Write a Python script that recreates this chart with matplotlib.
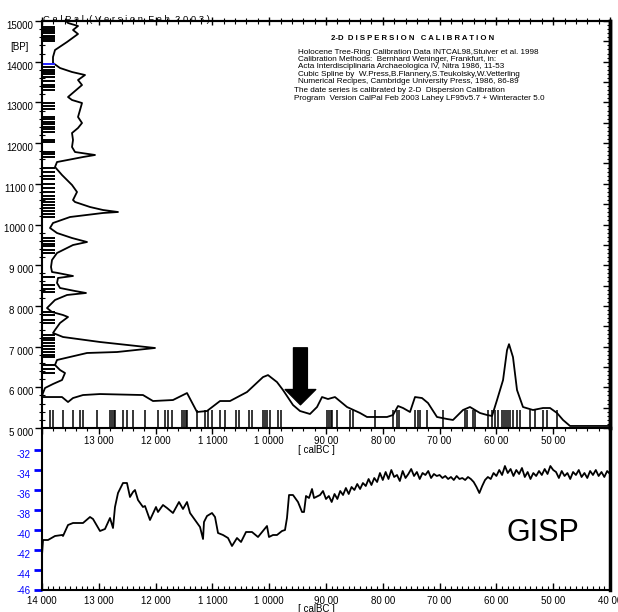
import matplotlib
matplotlib.use("Agg")
import matplotlib.pyplot as plt
from matplotlib.ticker import MultipleLocator, NullFormatter

plt.rcParams['font.family'] = ['Liberation Sans', 'DejaVu Sans']

# --- dados ------------------------------------------------------------------
# curva de probabilidade calibrada (eixo calBC, base do painel superior)
cal_years = [14000, 13648, 13542, 13454, 13278, 12979, 12222, 12046, 11694, 11447,
             11271, 11095, 10866, 10690, 10391, 10109, 10021, 9863, 9757, 9581,
             9458, 9282, 9158, 9070, 8965, 8842, 8630, 8401, 8278, 7926,
             7820, 7732, 7644, 7521, 7433, 7310, 7204, 7046, 6870, 6764,
             6588, 6465, 6289, 6165, 6077, 5989, 5883, 5813, 5778, 5708,
             5637, 5532, 5356, 5179, 5056, 4933, 4827, 4704, 4000]
cal_dens = [29, 29, 24, 28, 31, 32, 31, 25, 26, 33,
            14, 15, 25, 25, 34, 49, 51, 44, 36, 21,
            15, 12, 19, 29, 27, 29, 19, 13, 9, 9,
            11, 20, 18, 14, 29, 28, 23, 9, 7, 6,
            16, 19, 13, 11, 10, 26, 46, 76, 82, 69,
            36, 19, 16, 18, 18, 13, 6, 0, 0]

# curva de probabilidade das datas 14C (eixo BP, lado esquerdo)
bp_years = [15000, 14951, 14877, 14779, 14681, 14484, 14287, 14115, 13968, 13845,
            13747, 13673, 13550, 13427, 13132, 13059, 12985, 12813, 12641, 12494,
            12371, 12248, 12076, 11904, 11781, 11708, 11658, 11535, 11413, 11216,
            10971, 10799, 10602, 10553, 10430, 10356, 10307, 10283, 10184, 10037,
            9914, 9791, 9668, 9570, 9496, 9300, 9128, 8956, 8833, 8808,
            8735, 8686, 8563, 8440, 8366, 8317, 8268, 8145, 7948, 7850,
            7776, 7727, 7580, 7408, 7334, 7236, 7113, 6966, 6867, 6843,
            6671, 6548, 6425, 6351, 6179, 6081, 5983, 5860, 5780]
bp_dens = [24, 26, 36, 31, 36, 25, 13, 11, 11, 18,
           30, 43, 36, 40, 26, 30, 40, 38, 36, 40,
           36, 30, 31, 30, 33, 53, 41, 15, 13, 20,
           30, 35, 31, 33, 48, 61, 76, 61, 28, 11,
           8, 15, 30, 45, 31, 15, 10, 9, 10, 16,
           31, 16, 15, 18, 33, 44, 25, 13, 5, 10,
           21, 26, 18, 13, 11, 21, 58, 113, 75, 45,
           15, 13, 18, 23, 20, 11, 3, 1, 0]

# marcas das datas individuais
bp_rug = [14850, 14800, 14750, 14700, 14640, 14600, 14550, 14500,
          13870, 13800, 13750, 13700, 13620, 13530, 13430, 13380, 13300,
          12985, 12900, 12830, 12640, 12580, 12520, 12460, 12400, 12340, 12280,
          12080, 12020, 11780, 11720, 11660, 11390, 11300, 11200, 11120, 11000,
          10900, 10800, 10700, 10620, 10560, 10480, 10400, 10330, 10260, 10190,
          9670, 9600, 9530, 9460, 9380, 9310, 8710, 8520, 8420, 8330,
          7850, 7780, 7650, 7580, 7290, 7220, 7150, 7080, 7010, 6940,
          6870, 6800, 6740, 6550, 6450, 6350]
bp_rug_blue = [13950]
cal_rug = [13859, 13806, 13630, 13454, 13331, 13278, 13032, 12803, 12768, 12740,
           12715, 12574, 12504, 12398, 12187, 11958, 11835, 11782, 11711, 11535,
           11500, 11470, 11447, 11271, 11130, 11077, 11007, 10866, 10778, 10584,
           10532, 10356, 10303, 10109, 10074, 10039, 9986, 9845, 9792, 8982,
           8947, 8920, 8894, 8806, 8577, 8525, 8137, 7820, 7750, 7715,
           7433, 7380, 7345, 7222, 6940, 6553, 6518, 6412, 6377, 6148,
           6077, 6024, 5972, 5901, 5866, 5831, 5796, 5760, 5708, 5637,
           5584, 5408, 5320, 5180, 5109, 4933]

# série GISP (d18O)
gisp_years = [14000, 14000, 14000, 14000, 13982, 13894, 13771, 13648, 13630, 13542,
              13454, 13278, 13155, 13102, 12979, 12891, 12803, 12750, 12715, 12662,
              12574, 12504, 12451, 12398, 12363, 12310, 12222, 12187, 12099, 11993,
              11958, 11870, 11799, 11694, 11588, 11518, 11447, 11394, 11306, 11218,
              11165, 11148, 11095, 11007, 10954, 10901, 10813, 10725, 10655, 10567,
              10496, 10408, 10303, 10197, 10039, 10004, 9933, 9863, 9775, 9722,
              9687, 9651, 9581, 9493, 9422, 9387, 9352, 9299, 9246, 9211,
              9105, 9053, 9000,
              8950, 8900, 8850, 8800, 8750, 8700, 8650, 8600, 8550, 8500,
              8450, 8400, 8350, 8300, 8250, 8200, 8150, 8100, 8050, 8000,
              7950, 7900, 7850, 7800, 7750, 7700, 7650, 7600, 7550, 7500,
              7450, 7400, 7350, 7300, 7250, 7200, 7150, 7100, 7050, 7000,
              6950, 6900, 6850, 6800, 6750, 6700, 6650, 6600, 6550, 6500,
              6450, 6400, 6350, 6300, 6250, 6200, 6150, 6100, 6050, 6000,
              5950, 5900, 5850, 5800, 5750, 5700, 5650, 5600, 5550, 5500,
              5450, 5400, 5350, 5300, 5250, 5200, 5150, 5100, 5050, 5000,
              4950, 4900, 4850, 4800, 4750, 4700, 4650, 4600, 4550, 4500,
              4450, 4400, 4350, 4300, 4250, 4200, 4150, 4100, 4050, 4000,
              4000, 4000, 4000, 4000]
gisp_d18o = [-35.8, -43.0, -36.0, -42.5, -41.0, -41.0, -40.6, -40.5, -40.6, -39.5,
             -39.3, -39.3, -38.7, -38.9, -40.1, -39.9, -38.8, -39.8, -37.7, -36.3,
             -35.3, -35.3, -36.7, -36.2, -36.0, -37.0, -37.7, -37.6, -39.0, -37.7,
             -38.2, -37.5, -37.8, -38.3, -37.2, -37.9, -37.2, -38.3, -39.0, -39.7,
             -40.9, -39.2, -38.6, -38.3, -38.7, -40.3, -40.5, -40.8, -41.6, -40.8,
             -41.2, -40.2, -40.2, -40.7, -39.6, -40.7, -40.5, -40.5, -40.1, -40.0,
             -38.8, -36.5, -36.5, -37.2, -38.2, -38.2, -36.6, -36.8, -35.9, -36.8,
             -36.5, -36.1, -36.9,
             -36.6, -37.2, -36.4, -36.9, -36.1, -36.5, -35.8, -36.4, -35.7, -36.0,
             -35.4, -35.9, -35.3, -35.6, -34.9, -35.5, -34.8, -35.2, -34.3, -35.0,
             -34.2, -34.9, -34.0, -34.7, -34.5, -35.1, -34.1, -34.8, -34.4, -33.9,
             -34.6, -34.2, -34.9, -34.3, -34.5, -34.1, -34.8, -34.4, -34.6, -34.5,
             -34.8, -34.6, -34.9, -34.7, -35.0, -34.6, -34.9, -34.8, -35.0, -34.7,
             -34.9, -35.2, -35.7, -36.3, -35.6, -35.0, -34.7, -34.9, -34.3, -34.6,
             -34.0, -34.5, -33.6, -34.3, -33.9, -34.6, -34.0, -34.4, -33.8, -34.7,
             -34.2, -34.9, -34.3, -34.6, -34.1, -34.5, -33.9, -34.4, -33.6, -34.0,
             -34.2, -34.8, -34.1, -34.6, -34.3, -34.9, -34.2, -34.5, -34.0, -34.7,
             -34.3, -34.8, -34.1, -34.5, -34.0, -34.6, -34.2, -34.7, -34.1, -34.4,
             -33.3, -36.2, -33.6, -35.8]

year_ticks = [14000, 13000, 12000, 11000, 10000, 9000, 8000, 7000, 6000, 5000, 4000]
year_labels = ["14 000", "13 000", "12 000", "1 1000", "1 0000", "90 00",
               "80 00", "70 00", "60 00", "50 00", "40 00"]
bp_ticks = [5000, 6000, 7000, 8000, 9000, 10000, 11000, 12000, 13000, 14000, 15000]
bp_labels = ["5 000", "6 000", "7 000", "8 000", "9 000", "1000 0", "1100 0",
             "12000", "13000", "14000", "15000"]
d18o_ticks = [-32, -34, -36, -38, -40, -42, -44, -46]

arrow_year = 9450
arrow_from, arrow_to = 6970, 5570

header_lines = [
    "Holocene Tree-Ring Calibration Data INTCAL98,Stuiver et al. 1998",
    "Calibration Methods:  Bernhard Weninger, Frankfurt, in:",
    "Acta Interdisciplinaria Archaeologica IV, Nitra 1986, 11-53",
    "Cubic Spline by  W.Press,B.Flannery,S.Teukolsky,W.Vetterling",
    "Numerical Recipes, Cambridge University Press, 1986, 86-89",
]
footer_lines = [
    "The date series is calibrated by 2-D  Dispersion Calibration",
    "Program  Version CalPal Feb 2003 Lahey LF95v5.7 + Winteracter 5.0",
]

# --- figura -------------------------------------------------------------------
W, H = 618, 612
fig = plt.figure(figsize=(W / 100, H / 100), dpi=100)


def px(x, y):
    """Converte pixels (origem no topo) para fração da figura."""
    return x / W, 1 - y / H


ax = fig.add_axes([42 / W, 1 - 428 / H, 568 / W, 407 / H])
axg = fig.add_axes([42 / W, 1 - 590 / H, 568 / W, 162 / H])
axg.patch.set_visible(False)
ax.set_zorder(2)
ax.patch.set_visible(False)

# painel superior
ax.set_xlim(14000, 4000)
ax.set_ylim(5000, 15000)

cal_max = max(cal_dens)
ax.plot(cal_years, [0.005 + d / cal_max * 0.201 for d in cal_dens],
        color='black', lw=1.3, transform=ax.get_xaxis_transform())
bp_max = max(bp_dens)
ax.plot([d / bp_max * 0.199 for d in bp_dens], bp_years,
        color='black', lw=1.3, transform=ax.get_yaxis_transform(), clip_on=False)

ax.hlines(bp_rug, 14000, 13770, color='black', lw=1.4)
ax.hlines(bp_rug_blue, 14000, 13770, color='#2020ff', lw=1.4)
ax.vlines(cal_rug, 5000, 5440, color='black', lw=1.1)

ax.annotate('', xy=(arrow_year, arrow_to), xytext=(arrow_year, arrow_from),
            arrowprops=dict(facecolor='black', edgecolor='black', width=10,
                            headwidth=22, headlength=11, shrink=0))

ax.set_xticks(year_ticks)
ax.set_xticklabels([''] + year_labels[1:-1] + [''])
ax.xaxis.set_minor_locator(MultipleLocator(200))
ax.tick_params(axis='x', which='major', direction='out', length=4, width=1,
               labelsize=7, pad=2)
ax.tick_params(axis='x', which='minor', direction='out', length=2, width=0.8)
ax.set_yticks(bp_ticks)
ax.set_yticklabels(bp_labels)
ax.yaxis.set_minor_locator(MultipleLocator(200))
ax.tick_params(axis='y', which='major', direction='out', length=5, width=1,
               labelsize=7, pad=1)
ax.tick_params(axis='y', which='minor', direction='inout', length=4, width=0.8)
for lab in ax.get_yticklabels():
    lab.set_va('top')

for side in ['left', 'bottom', 'top']:
    ax.spines[side].set_linewidth(1.5)
ax.spines['right'].set_linewidth(2.5)

top = ax.secondary_xaxis('top')
top.xaxis.set_major_locator(MultipleLocator(1000))
top.xaxis.set_minor_locator(MultipleLocator(200))
top.xaxis.set_major_formatter(NullFormatter())
top.tick_params(which='major', direction='inout', length=6, width=1)
top.tick_params(which='minor', direction='inout', length=4, width=0.8)
top.spines['top'].set_linewidth(1.5)

right = ax.secondary_yaxis('right')
right.yaxis.set_major_locator(MultipleLocator(500))
right.yaxis.set_minor_locator(MultipleLocator(100))
right.yaxis.set_major_formatter(NullFormatter())
right.tick_params(which='major', direction='in', length=5, width=1)
right.tick_params(which='minor', direction='in', length=2.5, width=0.8)
right.spines['right'].set_linewidth(2.5)

# painel inferior (GISP)
axg.set_xlim(14000, 4000)
axg.set_ylim(-46, -29.8)
axg.plot(gisp_years, gisp_d18o, color='black', lw=1.3, clip_on=False)

axg.set_xticks(year_ticks)
axg.set_xticklabels(year_labels)
axg.xaxis.set_minor_locator(MultipleLocator(100))
axg.tick_params(axis='x', which='major', direction='in', length=5, width=1,
                labelsize=7, pad=4)
axg.tick_params(axis='x', which='minor', direction='in', length=3, width=0.8)
axg.set_yticks(d18o_ticks)
axg.set_yticklabels([str(t) for t in d18o_ticks])
axg.tick_params(axis='y', direction='out', length=6, width=2, colors='#0000ff',
                labelsize=7, pad=2)
ylabs = axg.get_yticklabels()
for lab in ylabs[:-1]:
    lab.set_va('top')
axg.spines['top'].set_visible(False)
axg.spines['left'].set_linewidth(1.5)
axg.spines['bottom'].set_linewidth(1.5)
axg.spines['right'].set_linewidth(2.5)

# textos
fig.text(*px(43, 22), "C a l P a l  ( V e r s i o n  F e b  2 0 0 3 )",
         fontsize=6.8, ha='left', va='baseline')
fig.text(*px(10, 47), "[BP]", fontsize=7, ha='left', va='center')
fig.text(*px(413, 38), "2-D  D I S P E R S I O N   C A L I B R A T I O N",
         fontsize=5.6, fontweight='bold', ha='center', va='center')
for i, linha in enumerate(header_lines):
    fig.text(*px(298, 52 + i * 7.4), linha, fontsize=5.9, ha='left', va='center')
for i, linha in enumerate(footer_lines):
    fig.text(*px(294, 90 + i * 8), linha, fontsize=5.9, ha='left', va='center')
fig.text(*px(316, 450), "[ calBC ]", fontsize=7, ha='center', va='center')
fig.text(*px(316, 609), "[ calBC ]", fontsize=7, ha='center', va='center')
fig.text(*px(543, 533), "GISP", fontsize=22, ha='center', va='center')

fig.savefig("out.png", dpi=100)
